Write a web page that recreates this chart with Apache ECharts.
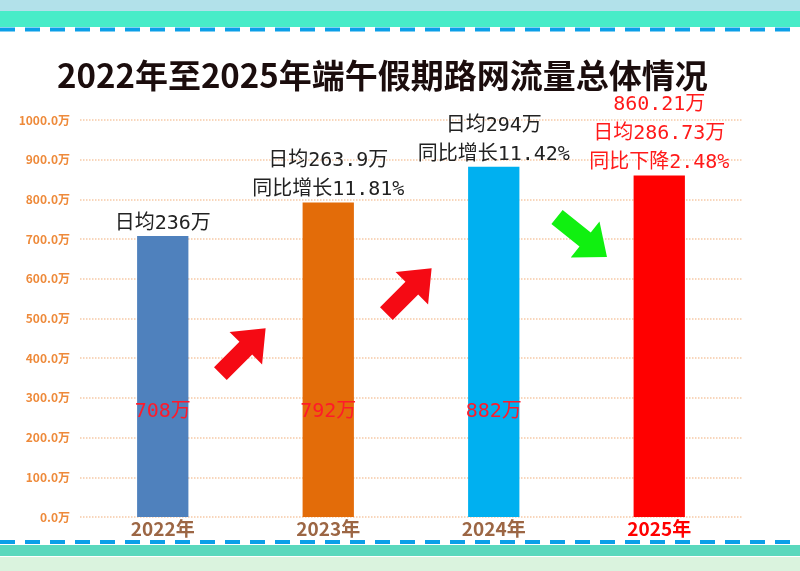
<!DOCTYPE html>
<html>
<head>
<meta charset="utf-8">
<script src="https://cdn.jsdelivr.net/npm/echarts@6/dist/echarts.min.js"></script>
<style>
  html, body { margin: 0; padding: 0; background: #fff; }
  #main { width: 800px; height: 571px; }
</style>
</head>
<body>
<div id="main"></div>
<script>
// 数据
var years = ['2022年', '2023年', '2024年', '2025年'];
var totals = [708, 792, 882, 860.21];
var insideTexts = ['708万', '792万', '882万', ''];
var topTexts = [
  '日均236万',
  '日均263.9万\n同比增长11.81%',
  '日均294万\n同比增长11.42%',
  '860.21万\n日均286.73万\n同比下降2.48%'
];
var barColors = ['#4f81bd', '#e36c09', '#00b0f0', '#ff0000'];
var yearColors = ['#9c6644', '#9c6644', '#9c6644', '#ff0000'];
var topColors = ['#222', '#222', '#222', '#ff1a1a'];

var FONT = '"Noto Sans CJK SC", "Noto Sans", sans-serif';
var MONO = '"DejaVu Sans Mono", "Noto Sans CJK SC", monospace';

// 箭头(装饰)
function arrow(cx, cy, dx, dy, color) {
  var len = Math.sqrt(dx * dx + dy * dy);
  var c = dx / len, s = dy / len;
  var local = [[-32, -9], [4, -9], [4, -23], [32, 0], [4, 23], [4, 9], [-32, 9]];
  var pts = local.map(function (p) {
    return [cx + p[0] * c - p[1] * s, cy + p[0] * s + p[1] * c];
  });
  return { type: 'polygon', shape: { points: pts }, style: { fill: color }, z: 10 };
}

var chart = echarts.init(document.getElementById('main'));

var option = {
  backgroundColor: '#fff',
  title: {
    text: '2022年至2025年端午假期路网流量总体情况',
    left: 52,
    top: 54,
    textStyle: { fontFamily: FONT, fontSize: 33, fontWeight: 'bold', color: '#1b0d0d' }
  },
  grid: { left: 80, right: 58, top: 120, bottom: 54 },
  xAxis: {
    type: 'category',
    data: years,
    axisLine: { show: false },
    axisTick: { show: false },
    axisLabel: {
      margin: 2,
      fontFamily: FONT,
      fontSize: 19,
      fontWeight: 'bold',
      color: function (v, i) { return yearColors[i]; }
    }
  },
  yAxis: {
    type: 'value',
    min: 0,
    max: 1000,
    interval: 100,
    axisLine: { show: false },
    axisTick: { show: false },
    axisLabel: {
      margin: 10,
      fontFamily: FONT,
      fontSize: 12,
      fontWeight: 'bold',
      color: '#ee8a3a',
      formatter: function (v) { return v.toFixed(1) + '万'; }
    },
    splitLine: { lineStyle: { color: '#f6c9a6', type: 'dotted', width: 1.5 } }
  },
  series: [
    {
      type: 'bar',
      barWidth: '31%',
      data: totals.map(function (v, i) {
        return {
          value: v,
          itemStyle: { color: barColors[i] },
          label: {
            show: true,
            position: 'top',
            distance: -2,
            formatter: topTexts[i],
            fontFamily: MONO,
            fontSize: 20,
            lineHeight: 29,
            color: topColors[i]
          }
        };
      })
    },
    {
      type: 'bar',
      barGap: '-100%',
      barWidth: '31%',
      silent: true,
      itemStyle: { color: 'transparent' },
      data: totals.map(function (v, i) {
        return {
          value: v,
          label: {
            show: insideTexts[i] !== '',
            position: 'insideBottom',
            distance: 95,
            formatter: insideTexts[i],
            fontFamily: MONO,
            fontSize: 20,
            color: '#ff1a2a'
          }
        };
      })
    }
  ],
  graphic: [
    { type: 'rect', shape: { x: 0, y: 0, width: 800, height: 11 }, style: { fill: '#b2e1ea' }, z: 1 },
    { type: 'rect', shape: { x: 0, y: 11, width: 800, height: 16 }, style: { fill: '#48ecc8' }, z: 1 },
    { type: 'line', shape: { x1: 0, y1: 29.5, x2: 800, y2: 29.5 }, style: { stroke: '#0b9fe8', lineWidth: 4, lineDash: [15, 10] }, z: 1 },
    { type: 'line', shape: { x1: 0, y1: 542, x2: 800, y2: 542 }, style: { stroke: '#0b9fe8', lineWidth: 4, lineDash: [15, 10] }, z: 1 },
    { type: 'rect', shape: { x: 0, y: 545, width: 800, height: 11 }, style: { fill: '#5ad8bd' }, z: 1 },
    { type: 'rect', shape: { x: 0, y: 557, width: 800, height: 14 }, style: { fill: '#daf3de' }, z: 1 },
    arrow(243, 351, 1, -1, '#f50a14'),
    arrow(409, 291, 1, -1, '#f50a14'),
    arrow(582, 237, 1, 0.8, '#10f010')
  ]
};

chart.setOption(option);
</script>
</body>
</html>
